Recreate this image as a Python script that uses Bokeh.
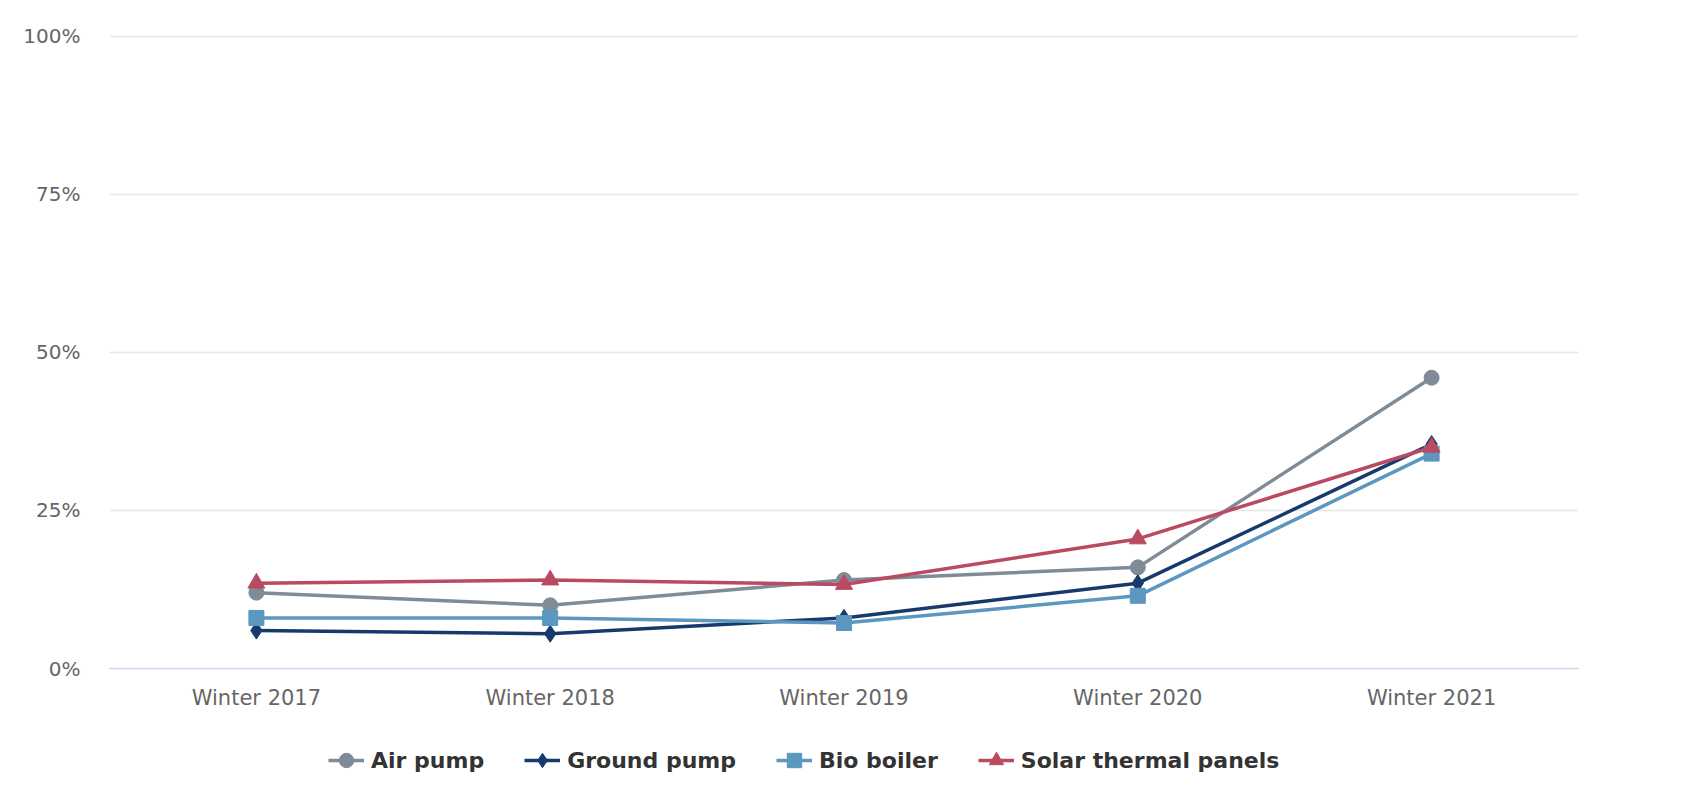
from bokeh.plotting import figure
from bokeh.layouts import column
from bokeh.models import FactorRange, Legend, NumeralTickFormatter, FixedTicker, Range1d
from bokeh.embed import file_html
from bokeh.resources import INLINE

categories = ["Winter 2017", "Winter 2018", "Winter 2019", "Winter 2020", "Winter 2021"]
air_pump = [0.12, 0.10, 0.14, 0.16, 0.46]
ground_pump = [0.06, 0.055, 0.08, 0.135, 0.355]
bio_boiler = [0.08, 0.08, 0.072, 0.115, 0.34]
solar_thermal = [0.135, 0.14, 0.133, 0.205, 0.35]
y_ticks = [0, 0.25, 0.5, 0.75, 1.0]

series = [
    ("Air pump", air_pump, "#7f8c97", "circle", 15),
    ("Ground pump", ground_pump, "#173a6c", "diamond", 17),
    ("Bio boiler", bio_boiler, "#5b97bf", "square", 15),
    ("Solar thermal panels", solar_thermal, "#b94a62", "triangle", 17),
]

FONT = "DejaVu Sans"

x_range = FactorRange(*categories, range_padding=0)
y_range = Range1d(0, 1.003)

p = figure(width=1680, height=730, x_range=x_range, y_range=y_range,
           output_backend="svg", toolbar_location=None,
           min_border_left=109, min_border_right=102, min_border_top=34, min_border_bottom=62)
p.outline_line_color = None
p.background_fill_color = "white"

for name, vals, color, marker, size in series:
    p.line(categories, vals, line_color=color, line_width=3.5)
    p.scatter(categories, vals, marker=marker, size=size, fill_color=color, line_color=color)

p.xgrid.grid_line_color = None
p.ygrid.grid_line_color = "#e6e6e6"
p.ygrid.grid_line_width = 1.5
p.yaxis.ticker = FixedTicker(ticks=y_ticks)
p.yaxis.formatter = NumeralTickFormatter(format="0%")
p.yaxis.axis_line_color = None
p.yaxis.major_tick_line_color = None
p.yaxis.minor_tick_line_color = None
p.yaxis.major_label_text_font = FONT
p.yaxis.major_label_text_font_size = "20px"
p.yaxis.major_label_text_color = "#666666"
p.yaxis.major_label_standoff = 23

p.xaxis.axis_line_color = "#ccd6eb"
p.xaxis.axis_line_width = 1.5
p.xaxis.major_tick_line_color = None
p.xaxis.minor_tick_line_color = None
p.xaxis.major_label_text_font = FONT
p.xaxis.major_label_text_font_size = "21px"
p.xaxis.major_label_text_color = "#666666"
p.xaxis.major_label_standoff = 11

# Legend strip below the chart (same data, hidden renderers)
lg = figure(width=1680, height=68, x_range=x_range, y_range=y_range,
            output_backend="svg", toolbar_location=None,
            x_axis_type=None, y_axis_type=None,
            min_border_left=0, min_border_right=0, min_border_top=0, min_border_bottom=0)
lg.outline_line_color = None
lg.xgrid.grid_line_color = None
lg.ygrid.grid_line_color = None

items = []
for name, vals, color, marker, size in series:
    r1 = lg.line(categories, vals, line_color=color, line_width=3.5, visible=False)
    r2 = lg.scatter(categories, vals, marker=marker, size=size, fill_color=color,
                    line_color=color, visible=False)
    items.append((name, [r1, r2]))

legend = Legend(items=items, orientation="horizontal", location=(219, 20),
                label_text_font=FONT, label_text_font_size="22px",
                label_text_font_style="bold", label_text_color="#333333",
                glyph_width=36, glyph_height=36, spacing=40, label_standoff=7,
                border_line_color=None, background_fill_alpha=0, margin=0, padding=6,
                click_policy="none")
lg.add_layout(legend, "center")

layout = column(p, lg, spacing=0)
open("out.html", "w").write(file_html(layout, INLINE))
